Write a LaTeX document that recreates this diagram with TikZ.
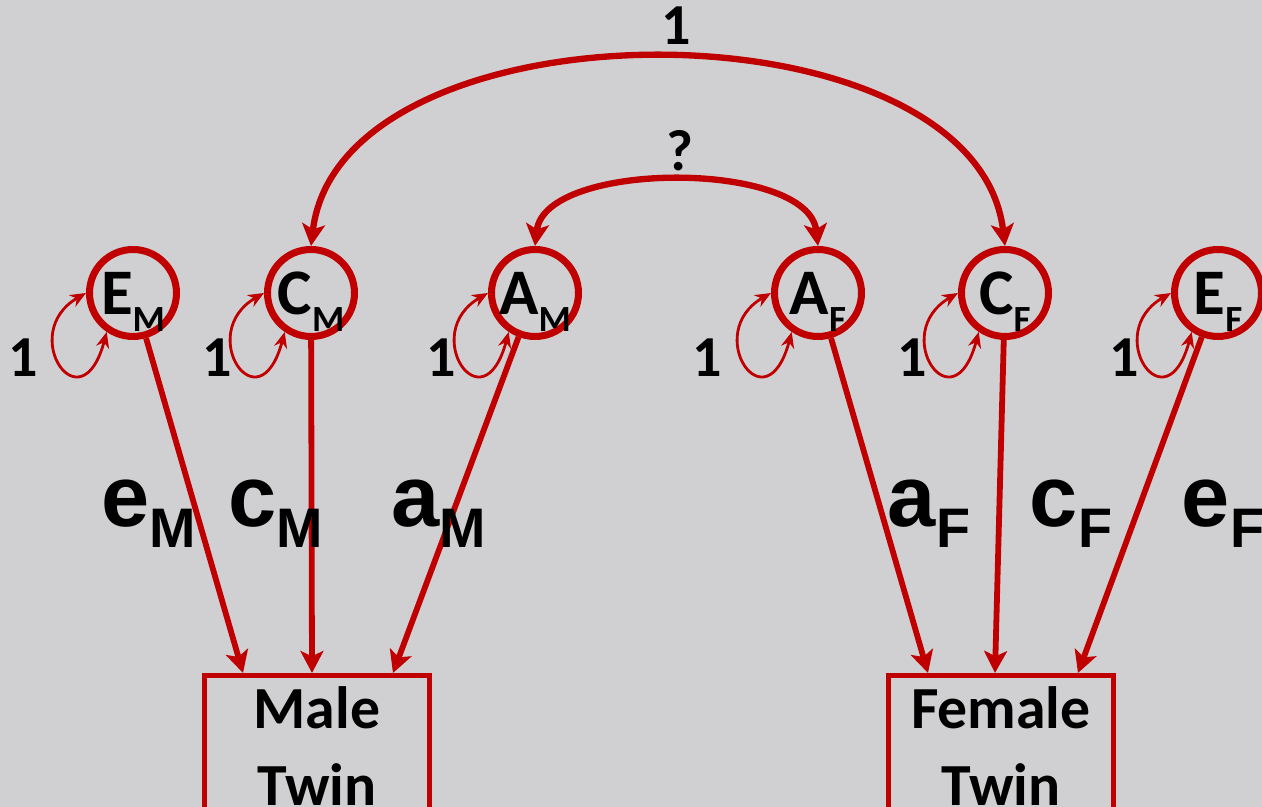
\documentclass[tikz,border=0pt]{standalone}
\usepackage{fontspec}
\setmainfont{Carlito}
\newfontfamily\arialfont{Liberation Sans}
\usetikzlibrary{arrows.meta}
\definecolor{acered}{RGB}{192,0,0}
\definecolor{slidegray}{RGB}{208,208,210}
% letter with a lowered index, for the circles and the paths
\newcommand{\latsub}[2]{#1\raisebox{-9.7pt}{\fontsize{21}{22}\selectfont #2}}
\newcommand{\pathsub}[2]{#1\raisebox{-11.4pt}{\fontsize{31.7}{32}\selectfont #2}}

\begin{document}
\begin{tikzpicture}[x=0.02cm, y=0.02cm,
    latent/.style={circle, draw=acered, line width=4pt, minimum size=1.74cm,
      inner sep=0pt, text depth=0pt, font=\fontsize{37}{38}\selectfont\bfseries},
    observed/.style={rectangle, draw=acered, line width=3pt, minimum width=4.5cm,
      minimum height=2.8cm, anchor=north, align=center,
      font=\fontsize{34}{43.8}\selectfont\bfseries},
    regpath/.style={draw=acered, line width=3.3pt,
      -{Stealth[length=12.5pt, width=13pt, inset=3pt]}},
    covpath/.style={draw=acered, line width=3.6pt,
      {Stealth[length=12.5pt, width=13pt, inset=3pt]}-{Stealth[length=12.5pt, width=13pt, inset=3pt]}},
    varloop/.style={draw=acered, line width=1.6pt,
      {Stealth[length=9pt, width=7.5pt]}-{Stealth[length=9pt, width=7.5pt]}},
    numlbl/.style={font=\fontsize{33}{34}\selectfont\bfseries, inner sep=0pt, anchor=base},
    pathlbl/.style={font=\arialfont\fontsize{49.3}{50}\selectfont\bfseries, inner sep=0pt, anchor=base}]
    % slide background
    \fill[slidegray] (0,0) rectangle (1262,807);
    \useasboundingbox (0,0) rectangle (1262,807);
    % latent factors, with their variance loops
    \foreach \nm/\xx/\ltr/\grp/\vx in {EM/133/E/M/23, CM/311/C/M/217, AM/535/A/M/441,
        AF/818/A/F/707, CF/1005/C/F/912, EF/1218/E/F/1124} {
      \node[latent] (\nm) at (\xx,514) {\latsub{\ltr}{\grp}};
      \draw[varloop] (\nm.180) .. controls +(210:80) and +(255:100) .. (\nm.236);
      \node[numlbl] (v\nm) at (\vx,430) {1};
    }
    % the twins
    \node[observed] (male) at (317,134) {Male\\Twin};
    \node[observed] (female) at (1001,134) {Female\\Twin};
    % paths, male twin
    \draw[regpath] (EM) -- ([xshift=-1.48cm]male.north);
    \draw[regpath] (CM) -- ([xshift=-0.1cm]male.north);
    \draw[regpath] (AM) -- ([xshift=1.52cm]male.north);
    \node[pathlbl] (eM) at (149,280) {\pathsub{e}{M}};
    \node[pathlbl] (cM) at (276,280) {\pathsub{c}{M}};
    \node[pathlbl] (aM) at (439,280) {\pathsub{a}{M}};
    % paths, female twin
    \draw[regpath] (AF) -- ([xshift=-1.46cm]female.north);
    \draw[regpath] (CF) -- ([xshift=-0.12cm]female.north);
    \draw[regpath] (EF) -- ([xshift=1.54cm]female.north);
    \node[pathlbl] (aF) at (929,280) {\pathsub{a}{F}};
    \node[pathlbl] (cF) at (1071,280) {\pathsub{c}{F}};
    \node[pathlbl] (eF) at (1223,280) {\pathsub{e}{F}};
    % correlations between the twins
    \draw[covpath] (CM.north) .. controls (341,811) and (975,811) .. (CF.north);
    \node[numlbl] (rC) at (676,762) {1};
    \draw[covpath] (AM.north) .. controls (545,647) and (808,647) .. (AF.north);
    \node[numlbl] (rA) at (680,636) {?};
\end{tikzpicture}
\end{document}
